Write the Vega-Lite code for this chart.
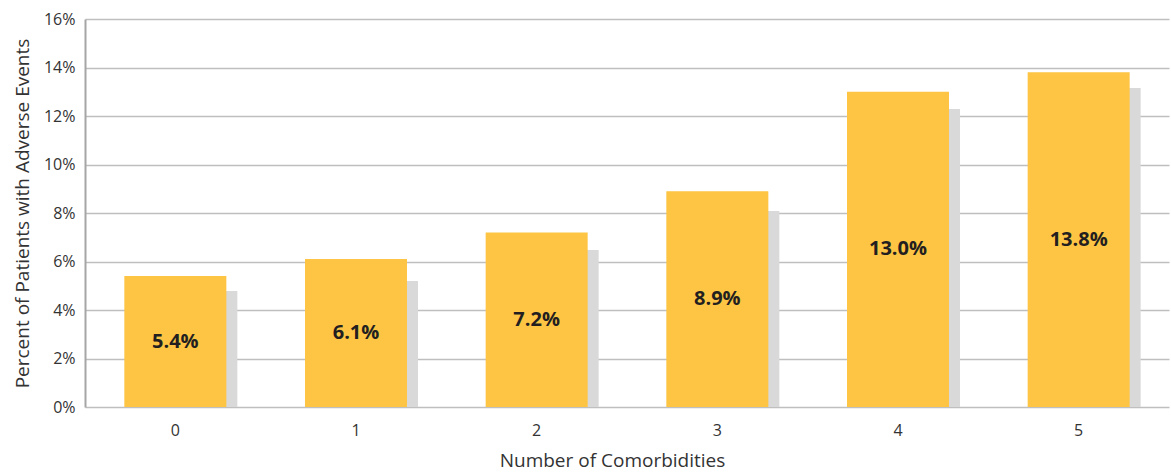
{
  "$schema": "https://vega.github.io/schema/vega-lite/v6.json",
  "autosize": "none",
  "width": 1084,
  "height": 388,
  "padding": {"left": 85, "top": 19, "right": 2, "bottom": 66},
  "background": "white",
  "config": {
    "view": {"stroke": null},
    "font": "Open Sans"
  },
  "data": {
    "values": [
      {"comorbidities": "0", "rate": 5.4, "comparison": 4.78},
      {"comorbidities": "1", "rate": 6.1, "comparison": 5.2},
      {"comorbidities": "2", "rate": 7.2, "comparison": 6.47},
      {"comorbidities": "3", "rate": 8.9, "comparison": 8.08},
      {"comorbidities": "4", "rate": 13.0, "comparison": 12.29},
      {"comorbidities": "5", "rate": 13.8, "comparison": 13.15}
    ]
  },
  "encoding": {
    "x": {
      "field": "comorbidities",
      "type": "ordinal",
      "scale": {"paddingInner": 0, "paddingOuter": 0},
      "axis": {
        "title": "Number of Comorbidities",
        "titleFont": "Open Sans",
        "titleFontSize": 19,
        "titleFontWeight": "normal",
        "titleColor": "#333333",
        "titleX": 527,
        "titleY": 53,
        "titleBaseline": "middle",
        "labelAngle": 0,
        "labelFont": "Open Sans",
        "labelFontSize": 16,
        "labelColor": "#333333",
        "labelPadding": 15,
        "ticks": false,
        "domain": false,
        "grid": false
      }
    }
  },
  "layer": [
    {
      "mark": {"type": "bar", "width": 102, "xOffset": 11, "color": "#D9D9D9"},
      "encoding": {
        "y": {
          "field": "comparison",
          "type": "quantitative",
          "scale": {"domain": [0, 16]},
          "axis": {
            "title": "Percent of Patients with Adverse Events",
            "titleFont": "Open Sans",
            "titleFontSize": 19,
            "titleFontWeight": "normal",
            "titleColor": "#333333",
            "titleAngle": -90,
            "titleX": -63,
            "titleY": 194,
            "titleAlign": "center",
            "titleBaseline": "middle",
            "values": [0, 2, 4, 6, 8, 10, 12, 14, 16],
            "labelExpr": "datum.value + '%'",
            "labelFont": "Open Sans",
            "labelFontSize": 16,
            "labelColor": "#333333",
            "labelPadding": 10,
            "ticks": false,
            "domainColor": "#A6A6A6",
            "domainWidth": 2,
            "gridColor": "#BFBFBF",
            "gridWidth": 1.5
          }
        }
      }
    },
    {
      "mark": {"type": "bar", "width": 102, "color": "#FDC543"},
      "encoding": {
        "y": {"field": "rate", "type": "quantitative"}
      }
    },
    {
      "mark": {"type": "rule", "color": "#A6A6A6", "strokeWidth": 3},
      "encoding": {
        "y": {"datum": 0, "type": "quantitative"}
      }
    },
    {
      "transform": [
        {"calculate": "datum.rate / 2", "as": "labelPos"},
        {"calculate": "format(datum.rate, '.1f') + '%'", "as": "rateLabel"}
      ],
      "mark": {
        "type": "text",
        "font": "Open Sans",
        "fontSize": 20,
        "fontWeight": "bold",
        "color": "#231F20",
        "baseline": "middle"
      },
      "encoding": {
        "y": {"field": "labelPos", "type": "quantitative"},
        "text": {"field": "rateLabel", "type": "nominal"}
      }
    }
  ]
}
